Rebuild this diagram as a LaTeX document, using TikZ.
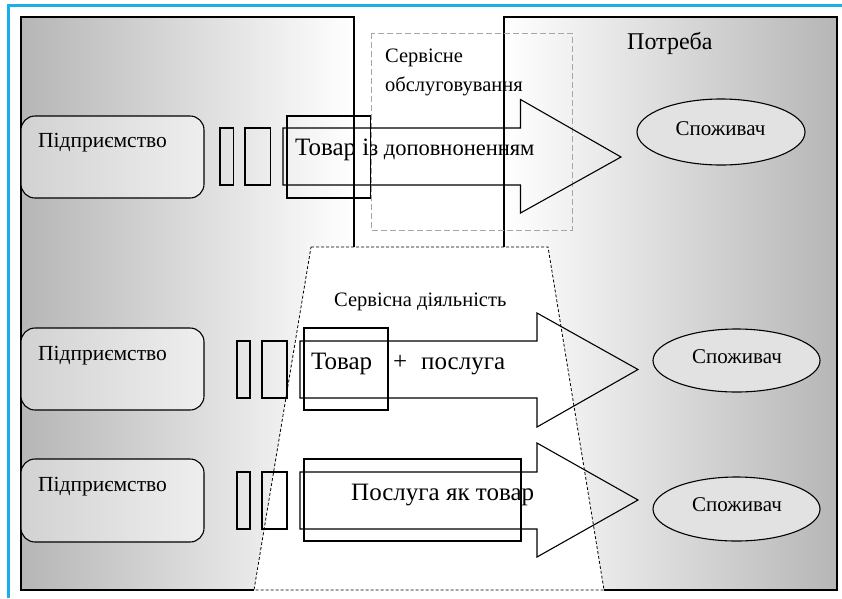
\documentclass[tikz,border=0pt]{standalone}
\usepackage{fontspec}
\setmainfont{Liberation Serif}
\usetikzlibrary{shapes.geometric}
\definecolor{framecyan}{HTML}{1AAEEA}
\definecolor{bgdark}{HTML}{B6B6B6}
\definecolor{firmdark}{HTML}{D2D2D2}
\definecolor{firmlight}{HTML}{EEEEEE}
\definecolor{consfill}{HTML}{E2E2E2}
\newcommand{\fs}[1]{\fontsize{#1}{#1}\selectfont}
\tikzset{
  ln/.style={line width=1.1pt, black},
  firm/.style={draw, line width=1.1pt, rounded corners=14pt, left color=firmdark, right color=firmlight},
  cons/.style={draw, line width=1.1pt, ellipse, fill=consfill, inner sep=0pt},
  bar/.style={draw, line width=1.1pt},
  arr/.style={draw, line width=1.1pt, line join=miter},
  txt/.style={inner sep=0pt, anchor=base west},
  ctxt/.style={inner sep=0pt, anchor=base},
}
\begin{document}
\begin{tikzpicture}[x=1pt, y=-1pt]
\useasboundingbox (0,0) rectangle (842,598);
% background shadings
\shade[left color=bgdark, right color=white] (21,17) -- (354,17) -- (354,247) -- (311,247) -- (254,590) -- (21,590) -- cycle;
\shade[left color=white, right color=bgdark] (504,17) -- (837,17) -- (837,590) -- (604,590) -- (548,247) -- (504,247) -- cycle;
\fill[white] (311,247) -- (548,247) -- (604,590) -- (254,590) -- cycle;
% outlines
\draw[ln] (254,590) -- (21,590) -- (21,17) -- (354,17) -- (354,247);
\draw[ln] (504,247) -- (504,17) -- (837,17) -- (837,590) -- (604,590);
\draw[black, line width=0.8pt, dash pattern=on 3pt off 2pt] (311,247) -- (548,247) -- (604,590) -- (254,590) -- cycle;
\draw[gray!70, line width=1pt, dash pattern=on 6pt off 3pt] (371,33) rectangle (572,230);
% blue frame
\draw[framecyan, line width=2.6pt] (8.5,598) -- (8.5,5.5) -- (842,5.5);

% row 1
\node[firm, minimum width=183pt, minimum height=82pt] (f1) at (112.5,157) {};
\node[bar, minimum width=13.5pt, minimum height=57pt] (b11) at (226.75,156.5) {};
\node[bar, minimum width=25.5pt, minimum height=57pt] (b12) at (257.75,156.5) {};
\draw[arr] (283,128) -- (520.5,128) -- (520.5,99.5) -- (621,157) -- (520.5,213) -- (520.5,185) -- (283,185) -- cycle;
\node[bar, minimum width=83.5pt, minimum height=82pt] (o1) at (328.75,157) {};
\node[cons, minimum width=168pt, minimum height=66pt] (c1) at (721,132) {};

% row 2
\node[firm, minimum width=183pt, minimum height=82pt] (f2) at (112.5,369) {};
\node[bar, minimum width=13pt, minimum height=57pt] (b21) at (243.5,369.5) {};
\node[bar, minimum width=25pt, minimum height=57pt] (b22) at (274.5,369.5) {};
\draw[arr] (300,341) -- (537,341) -- (537,313) -- (638,369.5) -- (537,427) -- (537,398) -- (300,398) -- cycle;
\node[bar, minimum width=84pt, minimum height=82pt] (o2) at (346,369) {};
\node[cons, minimum width=167pt, minimum height=63pt] (c2) at (736.5,360.5) {};

% row 3
\node[firm, minimum width=183pt, minimum height=83pt] (f3) at (112.5,500.5) {};
\node[bar, minimum width=13pt, minimum height=57pt] (b31) at (243.5,500.5) {};
\node[bar, minimum width=25pt, minimum height=57pt] (b32) at (274.5,500.5) {};
\draw[arr] (300,472) -- (537,472) -- (537,443) -- (638,500) -- (537,557) -- (537,529) -- (300,529) -- cycle;
\node[bar, minimum width=217pt, minimum height=82pt] (o3) at (412.5,500) {};
\node[cons, minimum width=167pt, minimum height=64pt] (c3) at (736.5,509) {};

% texts
\node[txt, font=\fs{20.5}] (s1) at (385,62) {Сервісне};
\node[txt, font=\fs{20.5}] (s2) at (385,91) {обслуговування};
\node[txt, font=\fs{24}] (need) at (627,49) {Потреба};
\node[txt, font=\fs{20.5}] (sd) at (334,306) {Сервісна діяльність};

\node[txt, font=\fs{21.5}] (tf1) at (38,147) {Підприємство};
\node[txt, font=\fs{21.5}] (tf2) at (38,360) {Підприємство};
\node[txt, font=\fs{21.5}] (tf3) at (38,491) {Підприємство};

\node[txt] (g1) at (295,155) {\fs{25}Товар і\fs{22.5}з доповноненням};
\node[txt, font=\fs{25}] (g2a) at (311,369) {Товар};
\node[txt, font=\fs{25}] (g2b) at (393,369) {+};
\node[txt, font=\fs{25}] (g2c) at (421,369) {послуга};
\node[txt, font=\fs{25}] (g3) at (351,500) {Послуга як товар};

\node[ctxt, font=\fs{21}] (tc1) at (720.5,135) {Споживач};
\node[ctxt, font=\fs{21}] (tc2) at (737,363) {Споживач};
\node[ctxt, font=\fs{21}] (tc3) at (737,511) {Споживач};
\end{tikzpicture}
\end{document}
